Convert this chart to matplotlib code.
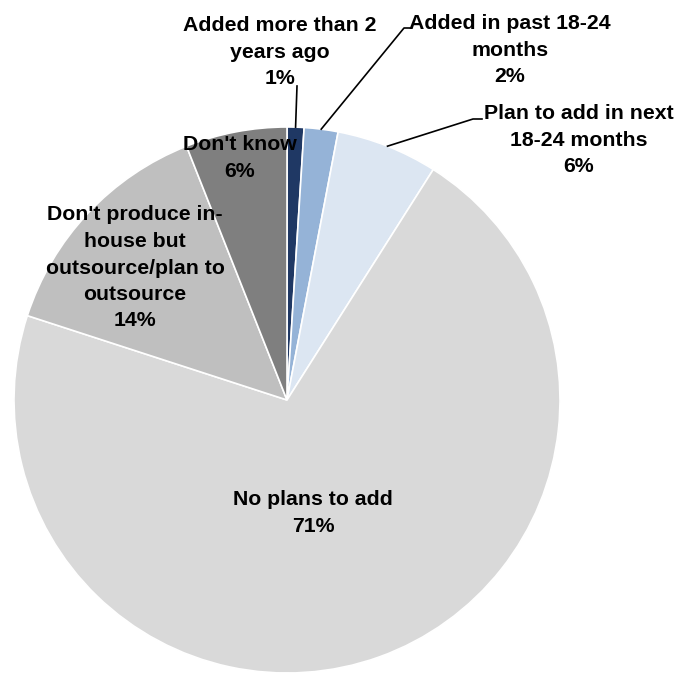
import numpy as np
import matplotlib.pyplot as plt

plt.rcParams['font.family'] = ['Liberation Sans', 'DejaVu Sans']

labels = ['Added more than 2\nyears ago', 'Added in past 18-24\nmonths',
          'Plan to add in next\n18-24 months', 'No plans to add',
          "Don't produce in-\nhouse but\noutsource/plan to\noutsource", "Don't know"]
values = [1, 2, 6, 71, 14, 6]
colors = ['#1F3864', '#95B3D7', '#DCE6F2', '#D9D9D9', '#BFBFBF', '#7F7F7F']

W, H = 677, 673
fig = plt.figure(figsize=(W / 100, H / 100), dpi=100)
ax = fig.add_axes([0, 0, 1, 1])

cx, cy, r = 287, H - 400, 273
ax.pie(values, colors=colors, startangle=90, counterclock=False,
       center=(cx, cy), radius=r, frame=True,
       wedgeprops=dict(edgecolor='white', linewidth=1.2))
ax.set_xlim(0, W)
ax.set_ylim(0, H)
ax.axis('off')

# label positions (pixel coords from top-left)
label_pos = [(280, 52), (510, 50), (579, 140), (313, 513), (135, 268), (240, 158)]
txt = dict(ha='center', va='center', fontsize=15.3, fontweight='bold',
           linespacing=1.5, color='black')
for lab, v, (x, y) in zip(labels, values, label_pos):
    ax.text(x, H - y, f'{lab}\n{v}%', **txt)

# leader lines for the small slices
mid = np.cumsum(values) - np.array(values) / 2
ends = [[(297, 86)], [(404, 28), (410, 28)], [(473, 119), (482, 119)]]
for i, pts in enumerate(ends):
    ang = np.deg2rad(mid[i] / 100 * 360)
    x0 = cx + r * np.sin(ang)
    y0 = cy + r * np.cos(ang)
    xs = [x0] + [p[0] for p in pts]
    ys = [y0] + [H - p[1] for p in pts]
    ax.plot(xs, ys, color='black', lw=1.2)

fig.savefig('out.png', dpi=100)
